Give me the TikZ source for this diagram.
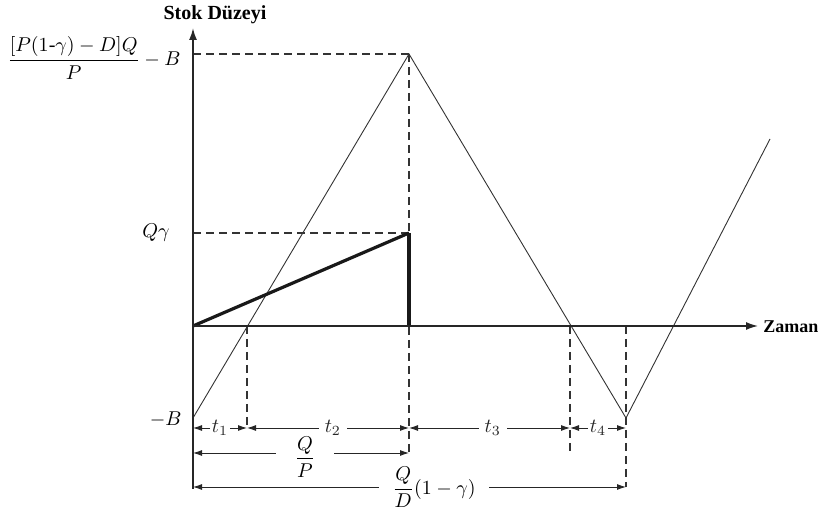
\documentclass[tikz,border=0pt]{standalone}
\usepackage{amsmath}
\usepackage{fontspec}
\setmainfont{Liberation Serif}
\usetikzlibrary{arrows.meta}

\begin{document}
\begin{tikzpicture}[x=0.5pt, y=-0.5pt,
    thinline/.style={line width=0.45pt, black!80},
    guide/.style={line width=0.55pt, black!80, dash pattern=on 4pt off 2.5pt},
    dimline/.style={line width=0.45pt, black!85,
        {Latex[length=4.5pt,width=3pt]}-{Latex[length=4.5pt,width=3pt]}},
    axisarrow/.style={line width=0.7pt, black!85, -{Latex[length=6pt,width=4pt]}},
    stockline/.style={line width=1.6pt, black!90},
    lbl/.style={fill=white, inner sep=1.5pt}
]
    \useasboundingbox (0,0) rectangle (820,512);

    % ==========================================
    % 1. COORDINATES FOR GEOMETRY
    % ==========================================
    % Axes cross at origin, stock level axis points up
    \coordinate (O) at (193,326);
    \coordinate (YTop) at (193,28);
    \coordinate (YBot) at (193,489);
    \coordinate (XEnd) at (758,326);

    % Stock curve: backorder -B, peak, trough, next cycle
    \coordinate (MinusB) at (193,418);
    \coordinate (Peak) at (409,54);
    \coordinate (PeakY) at (193,54);
    \coordinate (Trough) at (626,418);
    \coordinate (RightEnd) at (770,139);

    % Defective items Q*gamma line
    \coordinate (QgTop) at (409,233);
    \coordinate (QgY) at (193,233);
    \coordinate (QgFoot) at (409,326);

    % Zero crossings on time axis
    \coordinate (Cross1) at (247,326);
    \coordinate (Cross3) at (570,326);
    \coordinate (Cross4) at (626,326);

    % Dimension rows: t_i, Q/P, Q/D(1-gamma)
    \coordinate (T0) at (193,428);
    \coordinate (T1) at (247,428);
    \coordinate (T2) at (409,428);
    \coordinate (T3) at (570,428);
    \coordinate (T4) at (626,428);
    \coordinate (T3Foot) at (570,454);
    \coordinate (QP0) at (193,453);
    \coordinate (QP1) at (409,453);
    \coordinate (QD0) at (193,487);
    \coordinate (QD1) at (626,487);

    % ==========================================
    % 2. GUIDE LINES (dashed)
    % ==========================================
    \draw[guide] (PeakY) -- (Peak);
    \draw[guide] (QgY) -- (QgTop);
    \draw[guide] (Peak) -- (QP1);
    \draw[guide] (Cross1) -- (T1);
    \draw[guide] (Cross3) -- (T3Foot);
    \draw[guide] (Cross4) -- (QD1);

    % ==========================================
    % 3. STOCK LEVEL CURVE
    % ==========================================
    \draw[thinline] (MinusB) -- (Peak) -- (Trough) -- (RightEnd);

    % Thick Q*gamma build-up and removal
    \draw[stockline] (O) -- (QgTop);
    \draw[line width=2.2pt, black!90] (QgTop) -- (QgFoot);

    % Axes
    \draw[axisarrow] (O) -- (XEnd);
    \draw[axisarrow, line width=0.9pt] (YBot) -- (YTop);

    % ==========================================
    % 4. TIME INTERVALS
    % ==========================================
    \draw[dimline] (T0) -- node[lbl, inner xsep=1pt] (t1Label) {$t_1$} (T1);
    \draw[dimline] (T1) -- node[lbl, pos=0.53, inner xsep=3pt] (t2Label) {$t_2$} (T2);
    \draw[dimline] (T2) -- node[lbl, pos=0.52, inner xsep=3pt] (t3Label) {$t_3$} (T3);
    \draw[dimline] (T3) -- node[lbl, inner xsep=1pt] (t4Label) {$t_4$} (T4);
    \draw[dimline] (QP0) -- (QP1);
    \draw[dimline] (QD0) -- (QD1);
    % fractions sit a bit below their lines, white box breaks the line
    \node[lbl, inner xsep=9.5pt, inner ysep=0.5pt] (qpLabel) at (305,457) {$\dfrac{Q}{P}$};
    \node[lbl, inner xsep=6.5pt, inner ysep=0.5pt] (qdLabel) at (434,487.5)
        {$\dfrac{Q}{D}(1-\gamma)$};

    % ==========================================
    % 5. AXIS TEXT
    % ==========================================
    \node[font=\bfseries] (yTitle) at (215,15) {Stok Düzeyi};
    \node[font=\fontsize{9}{10}\selectfont\bfseries, anchor=west, inner sep=0pt]
        (xTitle) at (763,327) {Zaman};
    \node[anchor=east, inner sep=1pt] (peakLabel) at (183,58)
        {$\dfrac{[P(1\text{-}\gamma)-D]Q}{P}-B$};
    \node[anchor=east, inner sep=1pt] (qgLabel) at (172,233) {$Q\gamma$};
    \node[anchor=east, inner sep=1pt] (bLabel) at (184,420) {$-B$};

\end{tikzpicture}
\end{document}
